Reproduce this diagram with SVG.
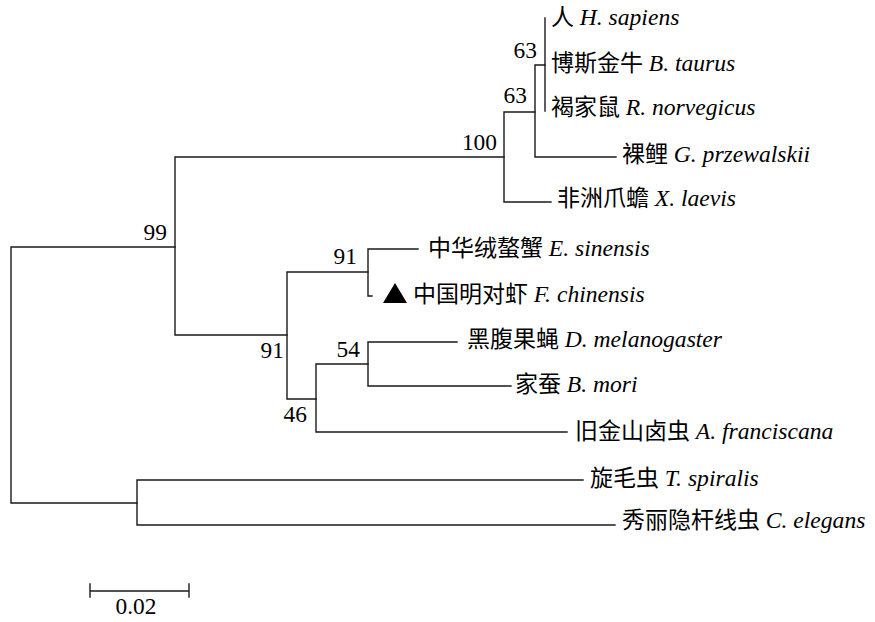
<svg xmlns="http://www.w3.org/2000/svg" width="875" height="622" viewBox="0 0 875 622">
<style>
.br{fill:none;stroke:#1a1a1a;stroke-width:1.4;stroke-linecap:square}
.lb{font-family:'Liberation Serif','Noto Sans CJK SC',serif;font-size:23px;fill:#000}
.it{font-style:italic;font-size:23.6px}
.bs{font-family:'Liberation Serif',serif;font-size:23.4px;fill:#000}
</style>
<rect width="875" height="622" fill="#fff"/>
<g id="connectors" class="br">
<path d="M11,247V503M11,247H175M11,503H137"/>
<path d="M175,157V335M175,157H504M175,335H287"/>
<path d="M504,112V202M504,112H535M504,202H551"/>
<path d="M535,65V157M535,65H545M535,157H616"/>
<path d="M545,18V111"/>
<path d="M287,272V399M287,272H368M287,399H316"/>
<path d="M368,249V296M368,249H418M368,296H372"/>
<path d="M316,364V432M316,364H368M316,432H567"/>
<path d="M368,342V386M368,342H457M368,386H511"/>
<path d="M137,480V525M137,480H583M137,525H615"/>
</g>
<g id="bootstrap" class="bs" text-anchor="end">
<text x="537" y="58">63</text>
<text x="527" y="103">63</text>
<text x="497" y="150">100</text>
<text x="167" y="240">99</text>
<text x="357" y="264">91</text>
<text x="284" y="358">91</text>
<text x="360" y="357">54</text>
<text x="307" y="422">46</text>
</g>
<g id="leaf-hsapiens"><text class="lb" x="551" y="25">人 <tspan class="it">H. sapiens</tspan></text></g>
<g id="leaf-btaurus"><text class="lb" x="551" y="71">博斯金牛 <tspan class="it">B. taurus</tspan></text></g>
<g id="leaf-rnorvegicus"><text class="lb" x="551" y="115">褐家鼠 <tspan class="it">R. norvegicus</tspan></text></g>
<g id="leaf-gprzewalskii"><text class="lb" x="622" y="162">裸鲤 <tspan class="it">G. przewalskii</tspan></text></g>
<g id="leaf-xlaevis"><text class="lb" x="557" y="206">非洲爪蟾 <tspan class="it">X. laevis</tspan></text></g>
<g id="leaf-esinensis"><text class="lb" x="428" y="256">中华绒螯蟹 <tspan class="it">E. sinensis</tspan></text></g>
<g id="leaf-fchinensis"><polygon points="383,303 407,303 395,283" fill="#000"/><text class="lb" x="413" y="302">中国明对虾 <tspan class="it">F. chinensis</tspan></text></g>
<g id="leaf-dmelanogaster"><text class="lb" x="467" y="347">黑腹果蝇 <tspan class="it">D. melanogaster</tspan></text></g>
<g id="leaf-bmori"><text class="lb" x="515" y="392">家蚕 <tspan class="it">B. mori</tspan></text></g>
<g id="leaf-afranciscana"><text class="lb" x="575" y="439">旧金山卤虫 <tspan class="it">A. franciscana</tspan></text></g>
<g id="leaf-tspiralis"><text class="lb" x="590" y="486">旋毛虫 <tspan class="it">T. spiralis</tspan></text></g>
<g id="leaf-celegans"><text class="lb" x="622" y="528">秀丽隐杆线虫 <tspan class="it">C. elegans</tspan></text></g>
<g id="scalebar">
<path class="br" d="M90,591H189M90,584V597M189,584V597"/>
<text class="bs" x="136" y="614" text-anchor="middle">0.02</text>
</g>
</svg>
